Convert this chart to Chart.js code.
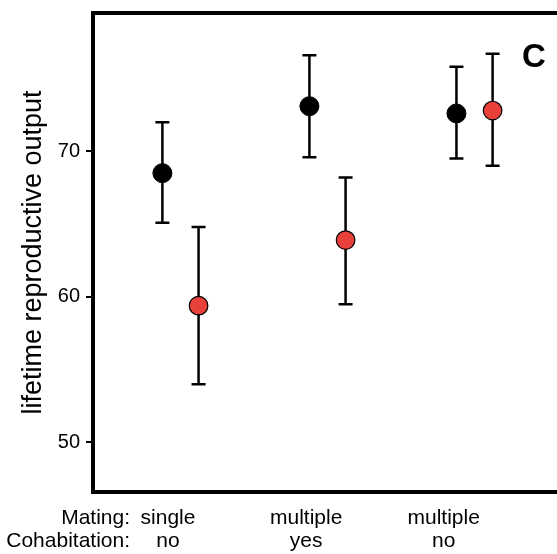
<!DOCTYPE html>
<html>
<head>
<meta charset="utf-8">
<script src="https://cdn.jsdelivr.net/npm/chart.js"></script>
<style>
html,body{margin:0;padding:0;overflow:hidden;background:#fff}
canvas{display:block}
</style>
</head>
<body>
<canvas id="chart" width="565" height="554"></canvas>
<script>
// treatment groups along the x axis
const mating = ["single", "multiple", "multiple"];
const cohabitation = ["no", "yes", "no"];
const yTicks = [50, 60, 70];

// black series
const blackMean = [68.5, 73.1, 72.6];
const blackLow = [65.1, 69.6, 69.5];
const blackHigh = [72.0, 76.6, 75.8];
// red series
const redMean = [59.4, 63.9, 72.8];
const redLow = [54.0, 59.5, 69.0];
const redHigh = [64.8, 68.2, 76.7];

// layout bits (not data)
const DODGE = 0.123;
const LABEL_AT = [0.915, 1.855, 2.79];
const FONT = "'Liberation Sans', Arial, Helvetica, sans-serif";
const LABEL_SIZE = 21, LABEL_LH = 23, LABEL_PAD = 15;

const toPoints = (mean, lo, hi, shift) =>
  mean.map((v, i) => ({ x: i + 1 + shift, y: v, lo: lo[i], hi: hi[i] }));

const errorBars = {
  id: "errorBars",
  beforeDatasetsDraw(chart) {
    const { ctx, scales: { x, y } } = chart;
    ctx.save();
    ctx.strokeStyle = "#000";
    ctx.lineWidth = 2.5;
    chart.data.datasets.forEach(ds => {
      ds.data.forEach(p => {
        const px = x.getPixelForValue(p.x);
        const yl = y.getPixelForValue(p.lo), yh = y.getPixelForValue(p.hi);
        ctx.beginPath();
        ctx.moveTo(px, yl); ctx.lineTo(px, yh);
        ctx.moveTo(px - 7, yl); ctx.lineTo(px + 7, yl);
        ctx.moveTo(px - 7, yh); ctx.lineTo(px + 7, yh);
        ctx.stroke();
      });
    });
    ctx.restore();
  }
};

const frame = {
  id: "frame",
  afterDraw(chart) {
    const { ctx, chartArea: a, scales: { x } } = chart;
    ctx.save();
    ctx.strokeStyle = "#000";
    ctx.lineWidth = 4;
    ctx.strokeRect(a.left, a.top, a.right - a.left, a.bottom - a.top);
    // row headers for the two-line x labels
    ctx.fillStyle = "#000";
    ctx.font = LABEL_SIZE + "px " + FONT;
    ctx.textAlign = "right";
    ctx.textBaseline = "middle";
    const y0 = x.top + LABEL_PAD + LABEL_LH / 2;
    ctx.fillText("Mating:", a.left + 37, y0);
    ctx.fillText("Cohabitation:", a.left + 37, y0 + LABEL_LH);
    // panel letter
    ctx.font = "bold 33px " + FONT;
    ctx.textAlign = "center";
    ctx.fillText("C", a.left + 441, a.top + 45);
    ctx.restore();
  }
};

const noPad = s => { s.paddingTop = 0; s.paddingBottom = 0; s.paddingLeft = 0; s.paddingRight = 0; };

new Chart(document.getElementById("chart"), {
  type: "scatter",
  data: {
    datasets: [
      {
        label: "black",
        data: toPoints(blackMean, blackLow, blackHigh, -DODGE),
        pointRadius: 9.5,
        pointBackgroundColor: "#000",
        pointBorderColor: "#000",
        pointBorderWidth: 1
      },
      {
        label: "red",
        data: toPoints(redMean, redLow, redHigh, DODGE),
        pointRadius: 9.3,
        pointBackgroundColor: "#e8413b",
        pointBorderColor: "#000",
        pointBorderWidth: 1.2
      }
    ]
  },
  options: {
    responsive: false,
    animation: false,
    layout: { autoPadding: false, padding: { top: 13, right: 3, left: 0, bottom: 0 } },
    plugins: { legend: { display: false }, tooltip: { enabled: false } },
    scales: {
      x: {
        type: "linear",
        min: 0.405,
        max: 3.595,
        afterBuildTicks: s => { s.ticks = LABEL_AT.map(v => ({ value: v })); },
        afterFit: s => { s.height = 62; noPad(s); },
        grid: { display: false, drawTicks: false },
        border: { display: false },
        ticks: {
          autoSkip: false,
          maxRotation: 0,
          padding: LABEL_PAD,
          color: "#000",
          font: { family: FONT, size: LABEL_SIZE, lineHeight: LABEL_LH / LABEL_SIZE },
          callback: (v, i) => [mating[i], cohabitation[i]]
        }
      },
      y: {
        min: 46.6,
        max: 79.5,
        afterBuildTicks: s => { s.ticks = yTicks.map(v => ({ value: v })); },
        afterFit: s => { s.width = 93; noPad(s); },
        grid: { drawOnChartArea: false, drawTicks: true, tickLength: 7, color: "#000", lineWidth: 2 },
        border: { display: false },
        ticks: {
          padding: 6,
          color: "#000",
          font: { family: FONT, size: 20 }
        },
        title: {
          display: true,
          text: "lifetime reproductive output",
          color: "#000",
          font: { family: FONT, size: 27 },
          padding: { top: 17, bottom: 0 }
        }
      }
    }
  },
  plugins: [errorBars, frame]
});
</script>
</body>
</html>
